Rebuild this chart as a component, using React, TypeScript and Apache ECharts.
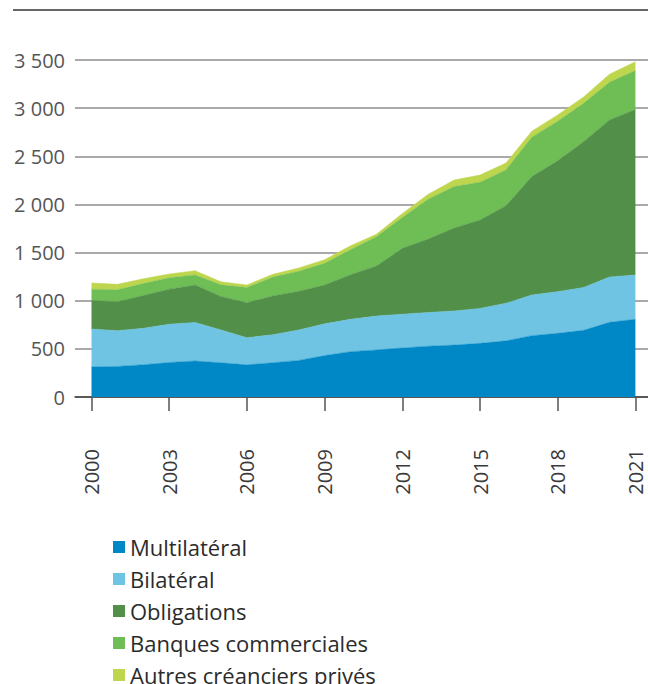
import { useEffect, useRef } from "react";
import * as echarts from "echarts";

const years = ["2000", "2001", "2002", "2003", "2004", "2005", "2006", "2007", "2008", "2009", "2010", "2011", "2012", "2013", "2014", "2015", "2016", "2017", "2018", "2019", "2020", "2021"];
const yTickValues = [0, 500, 1000, 1500, 2000, 2500, 3000, 3500];

const multilateral = [312, 318, 335, 358, 374, 355, 334, 356, 380, 430, 471, 488, 509, 528, 539, 557, 583, 637, 661, 692, 776, 807];
const bilateral = [394, 371, 378, 398, 400, 341, 282, 291, 316, 330, 336, 353, 351, 350, 354, 363, 390, 423, 433, 446, 470, 460];
const bonds = [297, 301, 341, 364, 389, 349, 363, 403, 402, 403, 463, 519, 684, 762, 862, 918, 1013, 1229, 1359, 1514, 1632, 1718];
const banks = [117, 124, 124, 118, 104, 120, 158, 195, 208, 225, 260, 305, 321, 415, 430, 392, 372, 409, 412, 398, 392, 405];
const otherPrivate = [64, 56, 50, 39, 45, 31, 26, 29, 34, 38, 40, 25, 40, 50, 69, 75, 72, 62, 65, 66, 83, 93];

const seriesNames = ["Multilatéral", "Bilatéral", "Obligations", "Banques commerciales", "Autres créanciers privés"];
const seriesValues = [multilateral, bilateral, bonds, banks, otherPrivate];
const seriesColors = ["#0088c6", "#6fc4e4", "#52904a", "#6ebe55", "#bdd64e"];

const FONT = "'Open Sans', sans-serif";
const Y_MAX = yTickValues[yTickValues.length - 1];
const Y_STEP = yTickValues[1] - yTickValues[0];

function fmt(v: number): string {
  if (v >= 1000) {
    const th = Math.floor(v / 1000);
    const rest = String(v % 1000).padStart(3, "0");
    return `${th} ${rest}`;
  }
  return String(v);
}

export default function App() {
  const ref = useRef<HTMLDivElement>(null);
  useEffect(() => {
    document.body.style.margin = "0";
    const chart = echarts.init(ref.current!, null, { renderer: "svg" });
    const option = {
      animation: false,
      backgroundColor: "#ffffff",
      textStyle: { fontFamily: FONT },
      grid: [
        { left: 91.5, right: 12.6, top: 60, bottom: 287, containLabel: false },
        { left: 75, right: 0, top: 60, bottom: 287, containLabel: false },
      ],
      graphic: [
        {
          type: "line",
          shape: { x1: 13, y1: 10, x2: 648, y2: 10 },
          style: { stroke: "#333333", lineWidth: 1.5 },
        },
      ],
      xAxis: [
        {
          type: "category",
          gridIndex: 0,
          data: years,
          boundaryGap: false,
          offset: 30,
          axisLine: { show: false },
          axisTick: {
            show: true,
            interval: 2,
            length: 14,
            lineStyle: { color: "#555555", width: 1.5 },
          },
          axisLabel: {
            interval: 2,
            rotate: 90,
            margin: 22,
            fontSize: 20,
            color: "#3a3a3a",
            fontFamily: FONT,
          },
          splitLine: { show: false },
        },
        {
          type: "value",
          gridIndex: 1,
          min: 0,
          max: 1,
          offset: 30,
          axisLine: { show: true, lineStyle: { color: "#555555", width: 1.5 } },
          axisTick: { show: false },
          axisLabel: { show: false },
          splitLine: { show: false },
        },
      ],
      yAxis: [
        {
          type: "value",
          gridIndex: 0,
          min: 0,
          max: Y_MAX,
          interval: Y_STEP,
          show: false,
          splitLine: { show: false },
        },
        {
          type: "value",
          gridIndex: 1,
          min: 0,
          max: Y_MAX,
          interval: Y_STEP,
          axisLine: { show: false },
          axisTick: { show: false },
          axisLabel: {
            fontSize: 20,
            margin: 10,
            color: "#555555",
            fontFamily: FONT,
            formatter: (v: number) => fmt(v),
          },
          splitLine: {
            show: true,
            lineStyle: {
              color: ["#333333", "#8c8c8c", "#8c8c8c", "#8c8c8c", "#8c8c8c", "#8c8c8c", "#8c8c8c", "#8c8c8c"],
              width: 1.5,
            },
          },
        },
      ],
      legend: {
        orient: "vertical",
        left: 113,
        top: 536,
        height: 200,
        padding: 0,
        itemWidth: 12,
        itemHeight: 12,
        itemGap: 10,
        icon: "rect",
        selectedMode: false,
        textStyle: { fontSize: 22, color: "#2b2b2b", fontFamily: FONT },
        data: seriesNames,
      },
      series: seriesNames.map((name, i) => ({
        type: "line",
        name,
        xAxisIndex: 0,
        yAxisIndex: 0,
        stack: "total",
        symbol: "none",
        data: seriesValues[i],
        lineStyle: { width: 0.5, color: seriesColors[i] },
        itemStyle: { color: seriesColors[i] },
        areaStyle: { color: seriesColors[i], opacity: 1 },
      })),
    };
    chart.setOption(option as any);
    return () => chart.dispose();
  }, []);
  return <div ref={ref} style={{ width: 648, height: 684 }} />;
}
